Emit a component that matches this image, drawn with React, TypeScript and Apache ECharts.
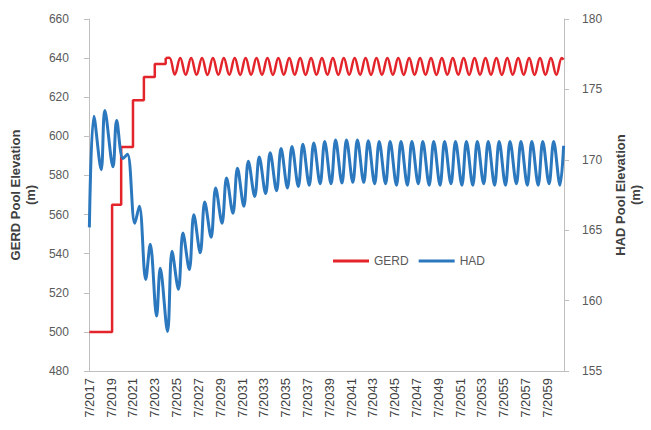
import React, { useEffect, useRef } from 'react';
import * as echarts from 'echarts';

// Monthly categories from 7/2017
const monthCount = 523;
const xLabels: string[] = Array.from({ length: monthCount }, (_, i) => {
  const m = 6 + i;
  return `${(m % 12) + 1}/${2017 + Math.floor(m / 12)}`;
});

// GERD filling steps (month index, level m)
const gerdStepMonths = [0, 25, 25, 35, 35, 48, 48, 60, 60, 72, 72, 84, 84];
const gerdStepLevels = [500, 500, 565, 565, 594.5, 594.5, 618.5, 618.5, 630.3, 630.3, 637, 637, 640];

// GERD yearly operation: first peak month, yearly peaks / troughs
const gerdFirstPeakMonth = 88;
const gerdTroughOffset = 6;
const gerdPeakLevels = [
  640.2, 640.1, 640.0, 640.1, 640.0, 640.1, 640.0, 640.0, 640.1, 640.0,
  640.0, 640.1, 640.0, 640.0, 640.1, 640.0, 640.0, 640.1, 640.0, 640.0,
  640.1, 640.0, 640.0, 640.1, 640.0, 640.0, 640.1, 640.0, 640.0, 640.1,
  640.0, 640.0, 640.1, 640.0, 640.0, 640.1, 640.0,
];
const gerdTroughLevels = [
  631.6, 631.5, 631.5, 631.4, 631.5, 631.5, 631.4, 631.5, 631.5, 631.4,
  631.5, 631.5, 631.4, 631.5, 631.5, 631.4, 631.5, 631.5, 631.4, 631.5,
  631.5, 631.4, 631.5, 631.5, 631.4, 631.5, 631.5, 631.4, 631.5, 631.5,
  631.4, 631.5, 631.5, 631.4, 631.5, 631.5,
];
const gerdLastMonth = 522;
const gerdLastLevel = 639.2;

// HAD key points (month index, level m)
const hadMonths = [
  0, 5, 13, 17, 26, 30, 37, 42, 50, 55, 62, 67, 74, 78, 86, 91,
  98, 103, 110, 115, 122, 127, 134, 139, 146, 151, 158, 163, 170, 175,
  182, 187, 194, 199, 206, 211, 218, 223, 230, 235, 242, 247, 254, 259,
  266, 271, 278, 283, 290, 295, 302, 307, 314, 319, 326, 331, 338, 343,
  350, 355, 362, 367, 374, 379, 386, 391, 398, 403, 410, 415, 422, 427,
  434, 439, 446, 451, 458, 463, 470, 475, 482, 487, 494, 499, 506, 511,
  518, 522,
];
const hadLevels = [
  165.2, 173.1, 169.3, 173.5, 169.5, 172.8, 170.1, 170.4, 165.5, 166.7, 161.5, 164.0, 158.9, 162.3, 157.8, 163.5,
  160.8, 164.8, 162.2, 166.1, 163.4, 167.0, 164.5, 168.0, 165.5, 168.7, 166.2, 169.4, 166.7, 169.9,
  167.4, 170.2, 167.6, 170.5, 167.8, 170.8, 168.0, 170.95, 168.1, 171.1, 168.2, 171.2, 168.3, 171.3,
  168.3, 171.4, 168.35, 171.4, 168.4, 171.4, 168.4, 171.35, 168.3, 171.3, 168.3, 171.3, 168.2, 171.3,
  168.2, 171.3, 168.3, 171.3, 168.2, 171.3, 168.2, 171.3, 168.3, 171.3, 168.2, 171.3, 168.2, 171.3,
  168.3, 171.3, 168.2, 171.3, 168.2, 171.3, 168.3, 171.3, 168.2, 171.3, 168.2, 171.3, 168.3, 171.3,
  168.2, 171.0,
];

const RED = '#E3242B';
const BLUE = '#2B78BE';
const FONT = 'Liberation Sans, Arial, sans-serif';

export default function App() {
  const ref = useRef<HTMLDivElement>(null);
  useEffect(() => {
    if (!ref.current) return;
    const chart = echarts.init(ref.current, null, { renderer: 'svg' });

    const gerdSteps = gerdStepMonths.map((m, i) => [m, gerdStepLevels[i]]);
    const gerdWave: number[][] = [[gerdStepMonths[gerdStepMonths.length - 1], gerdStepLevels[gerdStepLevels.length - 1]]];
    gerdPeakLevels.forEach((p, k) => {
      gerdWave.push([gerdFirstPeakMonth + 12 * k, p]);
      if (k < gerdTroughLevels.length) gerdWave.push([gerdFirstPeakMonth + gerdTroughOffset + 12 * k, gerdTroughLevels[k]]);
    });
    gerdWave.push([gerdLastMonth, gerdLastLevel]);
    const had = hadMonths.map((m, i) => [m, hadLevels[i]]);

    const axisGray = '#bfbfbf';
    chart.setOption({
      animation: false,
      textStyle: { fontFamily: FONT },
      grid: { left: 88, right: 84, top: 19, bottom: 59 },
      legend: {
        data: [
          { name: 'GERD', icon: 'rect', itemStyle: { color: RED } },
          { name: 'HAD', icon: 'rect', itemStyle: { color: BLUE } },
        ],
        left: 328,
        top: 250,
        itemWidth: 36,
        itemHeight: 3,
        itemGap: 10,
        textStyle: { color: '#595959', fontSize: 12, fontFamily: FONT },
      },
      xAxis: {
        type: 'category',
        data: xLabels,
        boundaryGap: true,
        axisLine: { lineStyle: { color: axisGray } },
        axisTick: { interval: 23, length: 5, lineStyle: { color: axisGray } },
        axisLabel: { interval: 23, rotate: 90, fontSize: 13, color: '#404040', margin: 7 },
        splitLine: { show: false },
      },
      yAxis: [
        {
          type: 'value',
          position: 'left',
          min: 480,
          max: 660,
          interval: 20,
          axisLine: { show: true, lineStyle: { color: axisGray } },
          axisTick: { show: true, length: 5, lineStyle: { color: axisGray } },
          axisLabel: { fontSize: 12, color: '#595959', margin: 20 },
          splitLine: { show: false },
          name: 'GERD Pool Elevation\n(m)',
          nameLocation: 'middle',
          nameRotate: 90,
          nameGap: 47,
          nameTextStyle: { fontWeight: 'bold', fontSize: 13, color: '#404040', lineHeight: 15 },
        },
        {
          type: 'value',
          position: 'right',
          min: 155,
          max: 180,
          interval: 5,
          axisLine: { show: true, lineStyle: { color: axisGray } },
          axisTick: { show: true, length: 5, lineStyle: { color: axisGray } },
          axisLabel: { fontSize: 12, color: '#595959', margin: 18 },
          splitLine: { show: false },
          name: 'HAD Pool Elevation\n(m)',
          nameLocation: 'middle',
          nameRotate: 90,
          nameGap: 40,
          nameTextStyle: { fontWeight: 'bold', fontSize: 13, color: '#404040', lineHeight: 15 },
        },
      ],
      series: [
        {
          name: 'GERD',
          type: 'line',
          yAxisIndex: 0,
          data: gerdSteps,
          symbol: 'none',
          lineStyle: { color: RED, width: 2.5 },
          itemStyle: { color: RED },
        },
        {
          name: 'GERD',
          type: 'line',
          yAxisIndex: 0,
          data: gerdWave,
          symbol: 'none',
          smooth: 0.4,
          lineStyle: { color: RED, width: 2.5 },
          itemStyle: { color: RED },
        },
        {
          name: 'HAD',
          type: 'line',
          yAxisIndex: 1,
          data: had,
          symbol: 'none',
          smooth: 0.35,
          lineStyle: { color: BLUE, width: 3 },
          itemStyle: { color: BLUE },
        },
      ],
    });
    return () => chart.dispose();
  }, []);
  return (
    <div
      ref={ref}
      style={{ position: 'fixed', left: 0, top: 0, width: 651, height: 430, background: '#fff' }}
    />
  );
}
